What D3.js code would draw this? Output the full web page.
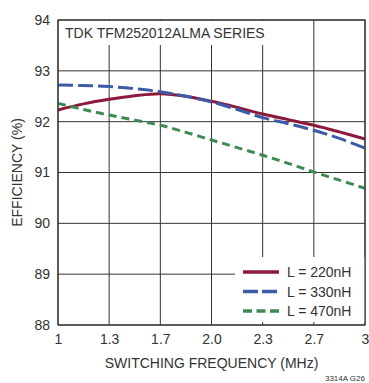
<!DOCTYPE html>
<html><head><meta charset="utf-8">
<script src="https://cdn.jsdelivr.net/npm/d3@7"></script>
<style>
body{margin:0;background:#fff;}
text{font-family:"Liberation Sans Narrow","Arial Narrow","Liberation Sans",sans-serif;fill:#333;}
</style></head>
<body><svg id="c" width="369" height="383"></svg>
<script>
const freq = [1, 1.1667, 1.3333, 1.5, 1.6667, 1.8333, 2, 2.1667, 2.3333, 2.5, 2.6667, 2.8333, 3];
const eff220 = [92.23, 92.35, 92.44, 92.51, 92.55, 92.5, 92.4, 92.28, 92.15, 92.04, 91.93, 91.8, 91.66];
const eff330 = [92.72, 92.71, 92.69, 92.65, 92.59, 92.5, 92.39, 92.24, 92.08, 91.96, 91.83, 91.67, 91.48];
const eff470 = [92.36, 92.24, 92.13, 92.03, 91.93, 91.79, 91.64, 91.49, 91.34, 91.18, 91.01, 90.85, 90.69];
const xTickVals = [1, 4/3, 5/3, 2, 7/3, 8/3, 3];
const xTickLabels = ["1", "1.3", "1.7", "2.0", "2.3", "2.7", "3"];
const yTicks = [88, 89, 90, 91, 92, 93, 94];
const seriesNames = ["L = 220nH", "L = 330nH", "L = 470nH"];
const seriesColors = ["#8c1a3c", "#3c5aa8", "#3e8a52"];
const seriesDash = [null, "15,5", "8,5"];

const svg = d3.select("#c");
const L = 58, R = 365, T = 20, B = 325;
const x = d3.scaleLinear().domain([1, 3]).range([L, R]);
const y = d3.scaleLinear().domain([88, 94]).range([B, T]);

// grid
const g = svg.append("g");
g.selectAll(".vg").data(xTickVals).join("line")
  .attr("x1", d => x(d)).attr("x2", d => x(d)).attr("y1", T).attr("y2", B)
  .attr("stroke", "#333").attr("stroke-width", 1);
g.selectAll(".hg").data(yTicks).join("line")
  .attr("x1", L).attr("x2", R).attr("y1", d => y(d)).attr("y2", d => y(d))
  .attr("stroke", "#333").attr("stroke-width", 1);

// title box
svg.append("rect").attr("x", L + 1).attr("y", T + 1).attr("width", 208).attr("height", 24).attr("fill", "#fff");
svg.append("text").attr("x", L + 7).attr("y", T + 18).attr("font-size", 14).text("TDK TFM252012ALMA SERIES");

// lines
const series = [eff220, eff330, eff470];
const line = d3.line().x(d => x(d[0])).y(d => y(d[1])).curve(d3.curveCatmullRom);
series.forEach((s, i) => {
  svg.append("path").datum(freq.map((f, j) => [f, s[j]]))
    .attr("d", line).attr("fill", "none")
    .attr("stroke", seriesColors[i]).attr("stroke-width", 3)
    .attr("stroke-dasharray", seriesDash[i]);
});

// legend box
svg.append("rect").attr("x", 235).attr("y", 257).attr("width", R - 235).attr("height", 65).attr("fill", "#fff");
seriesNames.forEach((n, i) => {
  const yy = 272 + i * 19.5;
  svg.append("line").attr("x1", 243).attr("x2", 279).attr("y1", yy).attr("y2", yy)
    .attr("stroke", seriesColors[i]).attr("stroke-width", 3.5).attr("stroke-dasharray", seriesDash[i] ? (i === 1 ? "15,4" : "9,4.5") : null);
  svg.append("text").attr("x", 287).attr("y", yy + 5).attr("font-size", 14).text(n);
});

// border
svg.append("rect").attr("x", L).attr("y", T).attr("width", R - L).attr("height", B - T)
  .attr("fill", "none").attr("stroke", "#333").attr("stroke-width", 1.2);

// axes labels
const xa = d3.axisBottom(x).tickValues(xTickVals).tickFormat((d, i) => xTickLabels[i]).tickSize(0).tickPadding(9);
const xg = svg.append("g").attr("transform", `translate(0,${B})`).call(xa);
xg.select(".domain").remove();
xg.selectAll("text").attr("font-size", 14).attr("fill", "#333").style("font-family", "'Liberation Sans Narrow','Arial Narrow',sans-serif");
const ya = d3.axisLeft(y).tickValues(yTicks).tickFormat(d3.format("d")).tickSize(0).tickPadding(8);
const yg = svg.append("g").attr("transform", `translate(${L},0)`).call(ya);
yg.select(".domain").remove();
yg.selectAll("text").attr("font-size", 14).attr("fill", "#333").style("font-family", "'Liberation Sans Narrow','Arial Narrow',sans-serif");

svg.append("text").attr("x", (L + R) / 2).attr("y", 368).attr("text-anchor", "middle").attr("font-size", 14).text("SWITCHING FREQUENCY (MHz)");
svg.append("text").attr("transform", `translate(22,${(T + B) / 2}) rotate(-90)`).attr("text-anchor", "middle").attr("font-size", 14).text("EFFICIENCY (%)");
svg.append("text").attr("x", 365).attr("y", 381).attr("text-anchor", "end").attr("font-size", 8).text("3314A G26");
</script></body></html>
